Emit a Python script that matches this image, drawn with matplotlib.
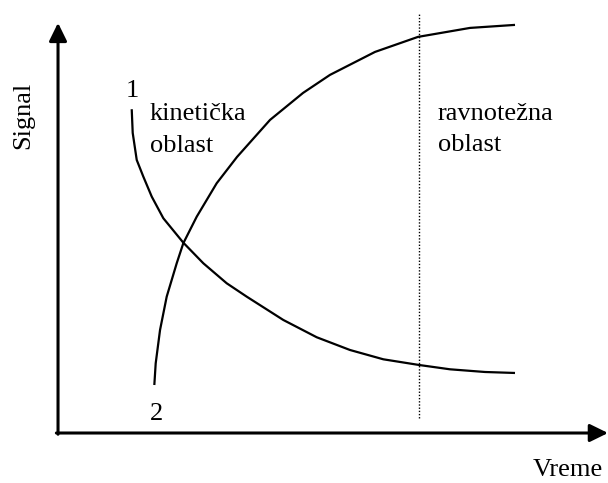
import matplotlib
matplotlib.use("Agg")
import matplotlib.pyplot as plt

plt.rcParams['font.family'] = ['Liberation Serif', 'DejaVu Serif']

# curve 1 (falling)
t1 = [1.340, 1.358, 1.431, 1.551, 1.704, 1.915, 2.278, 2.642, 3.067, 3.431,
      4.096, 4.704, 5.309, 5.915, 6.564, 7.127, 7.764, 8.309]
s1 = [7.934, 7.353, 6.691, 6.282, 5.792, 5.262, 4.664, 4.159, 3.669, 3.341,
      2.770, 2.346, 2.034, 1.806, 1.667, 1.561, 1.495, 1.471]

# curve 2 (rising)
t2 = [1.751, 1.776, 1.855, 1.976, 2.158, 2.278, 2.522, 2.885, 3.255,
      3.855, 4.455, 4.945, 5.764, 6.545, 7.491, 8.309]
s2 = [1.176, 1.708, 2.525, 3.341, 4.159, 4.650, 5.301, 6.120, 6.765,
      7.672, 8.333, 8.775, 9.338, 9.706, 9.926, 10.0]

t_eq = 6.564  # border kinetic / equilibrium region

fig = plt.figure(figsize=(6.08, 4.83), dpi=100)
ax = fig.add_axes([0, 0, 1, 1])
ax.set_xlim(-1.055, 10.0)
ax.set_ylim(-1.225, 10.61)
ax.axis('off')

# axes with arrows
arr = dict(arrowstyle='-|>,head_length=0.55,head_width=0.27', lw=2.2, color='black',
           shrinkA=0, shrinkB=0, mutation_scale=20)
ax.annotate('', xy=(10.0, 0), xytext=(-0.03, 0), arrowprops=arr)
ax.annotate('', xy=(0, 10.05), xytext=(0, -0.03), arrowprops=arr)

for t, s in [(t1, s1), (t2, s2)]:
    ax.plot(t, s, color='black', lw=1.6, solid_capstyle='butt', solid_joinstyle='round')
ax.plot([t_eq, t_eq], [0.37, 10.29], color='black', lw=1.0, linestyle=(0, (1, 1.3)))

fs = 19
ax.text(-0.636, 7.79, 'Signal', rotation=90, ha='center', va='center', fontsize=fs)
ax.text(9.9, -1.06, 'Vreme', ha='right', va='baseline', fontsize=fs)
ax.text(1.345, 8.235, '1', ha='center', va='baseline', fontsize=fs)
ax.text(1.782, 0.319, '2', ha='center', va='baseline', fontsize=fs)
ax.text(1.673, 7.67, 'kinetička', ha='left', va='baseline', fontsize=fs)
ax.text(1.673, 6.887, 'oblast', ha='left', va='baseline', fontsize=fs)
ax.text(6.909, 7.67, 'ravnotežna', ha='left', va='baseline', fontsize=fs)
ax.text(6.909, 6.912, 'oblast', ha='left', va='baseline', fontsize=fs)

fig.savefig('out.png', dpi=100)
